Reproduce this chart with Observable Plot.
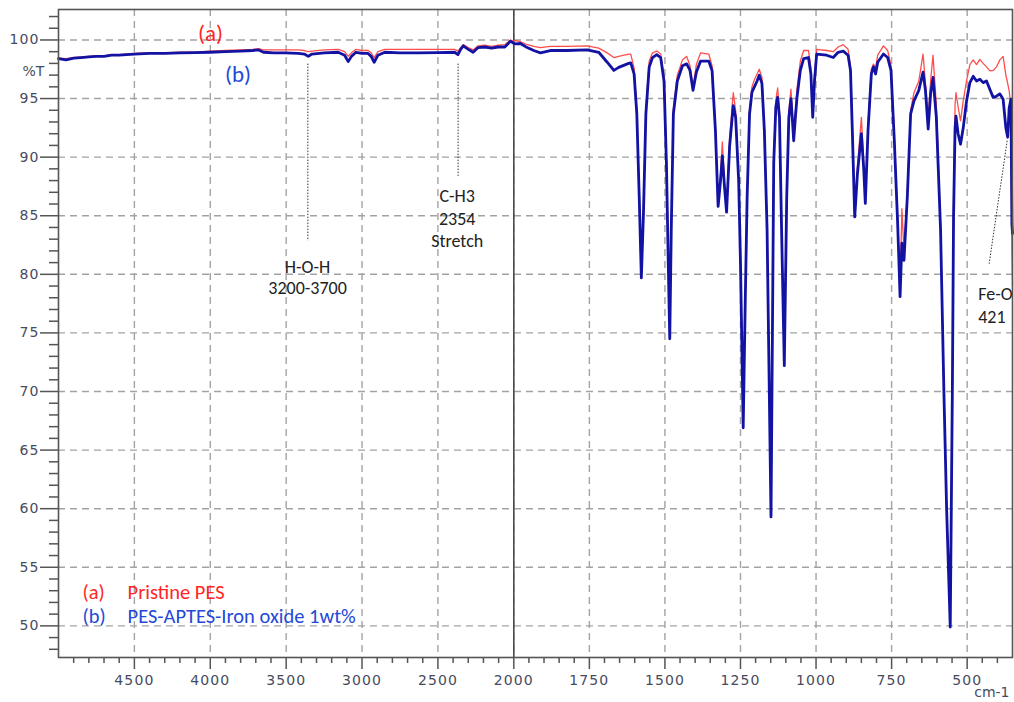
<!DOCTYPE html>
<html>
<head>
<meta charset="utf-8">
<script src="https://cdn.jsdelivr.net/npm/d3@7"></script>
<script src="https://cdn.jsdelivr.net/npm/@observablehq/plot@0.6"></script>
<style>
  html, body { margin: 0; padding: 0; background: #fff; }
</style>
</head>
<body>
<div id="chart"></div>
<script>
// ---- Data ----
const wavenumber = [
  5000, 4950, 4900, 4850, 4800, 4750, 4700, 4650, 4600, 4500, 4400, 4300, 4200, 4100, 4000,
  3900, 3800, 3720, 3682, 3649, 3580, 3507, 3420, 3380, 3354, 3330, 3250, 3157, 3115, 3091,
  3070, 3040, 3000, 2960, 2940, 2920, 2895, 2850, 2750, 2631, 2500, 2390, 2368, 2350, 2333,
  2300, 2268, 2235, 2191, 2147, 2103, 2059, 2040, 2022, 2005, 1994, 1978, 1961, 1934, 1912,
  1879, 1824, 1757, 1719, 1691, 1669, 1653, 1620, 1613, 1602, 1593, 1585, 1578, 1571, 1563,
  1552, 1541, 1527, 1514, 1503, 1495, 1489, 1484, 1479, 1472, 1459, 1442, 1428, 1417, 1407,
  1396, 1382, 1355, 1344, 1333, 1324, 1316, 1310, 1303, 1296, 1286, 1274, 1266, 1256, 1250,
  1241, 1234, 1228, 1220, 1212, 1204, 1195, 1188, 1179, 1171, 1162, 1149, 1140, 1133, 1127,
  1121, 1114, 1105, 1097, 1090, 1083, 1078, 1074, 1068, 1063, 1052, 1041, 1025, 1017, 1011,
  1005, 998, 965, 943, 927, 910, 894, 886, 880, 872, 863, 850, 842, 837, 828,
  817, 810, 803, 796, 777, 763, 752, 741, 730, 722, 716, 709, 698, 687, 676,
  660, 646, 638, 629, 621, 613, 602, 588, 577, 568, 556, 549, 545, 540, 537,
  530, 522, 513, 502, 491, 480, 469, 458, 447, 436, 425, 414, 403, 392, 381,
  372, 366, 361, 355, 352, 350
];
// (a) Pristine PES  (%T)
const pristinePES = [
  98.45, 98.4, 98.5, 98.55, 98.6, 98.65, 98.65, 98.75, 98.75, 98.85, 98.9, 98.9, 98.95, 98.97, 99.05,
  99.1, 99.15, 99.2, 99.25, 99.15, 99.15, 99.15, 99.15, 99.1, 99.0, 99.05, 99.15, 99.2, 99.0, 98.6,
  98.9, 99.2, 99.1, 99.1, 98.9, 98.5, 99.0, 99.2, 99.2, 99.2, 99.2, 99.2, 99.05, 99.35, 99.6,
  99.35, 99.15, 99.5, 99.55, 99.45, 99.55, 99.6, 99.8, 100.0, 99.9, 99.95, 99.85, 99.65, 99.45, 99.35,
  99.45, 99.45, 99.5, 99.3, 98.9, 98.5, 98.6, 98.8, 98.8, 97.6, 94.0, 86.8, 79.9, 85.4, 94.2,
  98.2, 98.9, 99.05, 98.8, 96.8, 89.7, 81.2, 74.6, 84.0, 94.1, 97.0, 98.3, 98.6, 97.8, 95.9,
  97.9, 98.9, 98.8, 97.8, 92.7, 86.0, 88.6, 91.3, 87.8, 85.4, 91.6, 95.5, 94.0, 88.2, 81.1,
  67.0, 78.2, 86.9, 94.1, 96.0, 96.6, 97.1, 97.5, 96.8, 92.6, 84.0, 59.4, 89.7, 94.9, 95.9,
  93.9, 84.0, 72.3, 86.9, 94.0, 95.8, 93.7, 91.7, 94.0, 95.8, 98.2, 99.1, 99.1, 97.6, 93.6,
  97.0, 99.2, 99.1, 99.0, 99.4, 99.6, 99.2, 97.8, 92.6, 85.0, 89.2, 93.4, 89.5, 86.2, 92.8,
  97.5, 97.95, 97.6, 98.7, 99.5, 99.1, 97.8, 91.8, 84.6, 78.3, 85.6, 82.0, 87.0, 94.0, 95.5,
  96.5, 98.8, 96.3, 93.3, 96.5, 98.7, 94.5, 84.2, 70.2, 60.2, 50.0, 70.0, 86.0, 94.5, 95.5,
  94.3, 93.1, 94.8, 96.5, 97.9, 98.3, 97.9, 98.35, 98.0, 97.7, 97.36, 97.4, 97.7, 98.3, 98.6,
  97.0, 96.3, 95.65, 94.2, 82.0, 79.0
];
// (b) PES-APTES-Iron oxide 1wt%  (%T)
const pesIronOxide = [
  98.4, 98.3, 98.45, 98.5, 98.55, 98.6, 98.6, 98.7, 98.7, 98.8, 98.85, 98.85, 98.9, 98.92, 98.95,
  99.0, 99.05, 99.1, 99.15, 98.95, 98.9, 98.9, 98.85, 98.8, 98.6, 98.8, 98.9, 98.95, 98.7, 98.15,
  98.6, 98.95, 98.85, 98.85, 98.6, 98.1, 98.7, 98.95, 98.9, 98.9, 98.92, 98.95, 98.75, 99.2, 99.5,
  99.2, 98.95, 99.35, 99.4, 99.3, 99.4, 99.4, 99.65, 99.9, 99.75, 99.66, 99.7, 99.43, 99.1, 98.9,
  99.1, 99.1, 99.15, 98.95, 98.1, 97.4, 97.66, 98.0, 98.05, 97.1, 93.7, 86.6, 79.7, 85.2, 93.7,
  97.7, 98.5, 98.75, 98.5, 96.5, 89.5, 81.0, 74.5, 83.8, 93.7, 96.5, 97.8, 97.96, 97.4, 95.7,
  97.25, 98.2, 98.2, 97.4, 92.3, 85.8, 88.0, 90.1, 87.5, 85.3, 90.9, 94.4, 93.4, 88.0, 81.0,
  66.9, 78.0, 86.6, 93.7, 95.55, 96.0, 96.5, 97.0, 96.3, 92.3, 83.8, 59.3, 89.5, 94.3, 95.1,
  93.4, 83.8, 72.2, 86.6, 93.4, 95.0, 93.1, 91.4, 93.5, 95.1, 97.4, 98.4, 98.5, 97.1, 93.4,
  96.5, 98.8, 98.7, 98.5, 98.95, 99.05, 98.7, 97.4, 92.3, 84.9, 88.6, 92.0, 88.9, 86.05, 92.3,
  97.1, 97.7, 97.1, 98.1, 98.8, 98.5, 97.4, 91.4, 84.35, 78.1, 82.65, 81.2, 86.6, 93.7, 94.8,
  95.7, 97.25, 95.7, 92.4, 95.4, 96.8, 93.4, 83.8, 70.0, 60.0, 49.9, 70.0, 85.0, 92.5, 93.5,
  92.0, 91.1, 92.5, 94.8, 96.36, 96.9, 96.5, 96.65, 96.36, 96.5, 95.8, 95.1, 95.2, 95.4, 94.95,
  92.5, 91.7, 94.2, 94.95, 84.3, 83.5
];

// Axis ticks
const xMajorTicks = [4500, 4000, 3500, 3000, 2500, 2000, 1750, 1500, 1250, 1000, 750, 500];
const xMinorTicks = [
  ...d3.range(4900, 2000, -100).filter(v => v % 500 !== 0),
  ...d3.range(1950, 350, -50).filter(v => v % 250 !== 0)
];
const yMajorTicks = [50, 55, 60, 65, 70, 75, 80, 85, 90, 95, 100];
const yMinorTicks = d3.range(48, 103, 1).filter(v => v % 5 !== 0);

// Annotations
const annText = ["H-O-H", "3200-3700", "C-H3", "2354", "Stretch", "Fe-O", "421"];
const annWn   = [3359, 3359, 2373, 2373, 2373, 463.6, 463.6];
const annT    = [80.64, 78.85, 86.7, 84.74, 82.86, 78.3, 76.3];
const annAnchor = ["middle", "middle", "middle", "middle", "middle", "start", "start"];
const leaderWn1 = [3357, 2367, 367.6];
const leaderT1  = [97.98, 97.98, 91.4];
const leaderWn2 = [3357, 2367, 427.3];
const leaderT2  = [82.86, 88.4, 80.9];

// Curve labels and legend
const curveLabels = ["(a)", "(b)"];
const curveLabelWn = [3998, 3817];
const curveLabelT = [100.54, 97.04];
const legendKeys = ["(a)", "(b)"];
const legendNames = ["Pristine PES", "PES-APTES-Iron oxide 1wt%"];
const legendKeyWn = 4842;
const legendNameWn = 4545;
const legendT = [52.85, 50.8];

const redLine = "#ff4d4d";
const blueLine = "#1212a3";
const redText = "#ff2626";
const blueText = "#2448d8";

const spectra = wavenumber.map((w, i) => ({w, a: pristinePES[i], b: pesIronOxide[i]}));
const ann = annText.map((t, i) => ({t, w: annWn[i], T: annT[i], anchor: annAnchor[i]}));
const leaders = leaderWn1.map((w, i) => ({x1: w, y1: leaderT1[i], x2: leaderWn2[i], y2: leaderT2[i]}));
const labels = curveLabels.map((t, i) => ({t, w: curveLabelWn[i], T: curveLabelT[i], c: i === 0 ? redText : blueText}));
const legend = legendKeys.map((k, i) => ({k, n: legendNames[i], T: legendT[i], c: i === 0 ? redText : blueText}));

const axisColor = "#474b5e";
const textFont = "Carlito, Lato, sans-serif";

const chart = Plot.plot({
  width: 1014,
  height: 702,
  marginLeft: 58,
  marginRight: 2,
  marginTop: 9,
  marginBottom: 45,
  style: {fontFamily: "DejaVu Sans, sans-serif", fontSize: "14px", background: "#fff"},
  x: {type: "linear", domain: [5000, 2000, 350], range: [58, 513.3, 1012], axis: null, label: null},
  y: {domain: [47.3, 102.6], axis: null, label: null},
  marks: [
    Plot.gridX(xMajorTicks, {stroke: "#a3a3a3", strokeOpacity: 1, strokeWidth: 1.4, strokeDasharray: "7,5"}),
    Plot.gridY(yMajorTicks, {stroke: "#a3a3a3", strokeOpacity: 1, strokeWidth: 1.4, strokeDasharray: "7,5"}),
    Plot.ruleX([2000], {stroke: "#4a4a4a", strokeWidth: 1.6}),
    Plot.line(spectra, {x: "w", y: "a", stroke: redLine, strokeWidth: 1.3}),
    Plot.line(spectra, {x: "w", y: "b", stroke: blueLine, strokeWidth: 2.8, strokeLinejoin: "round"}),
    Plot.link(leaders, {x1: "x1", y1: "y1", x2: "x2", y2: "y2", stroke: "#333", strokeWidth: 1, strokeDasharray: "1.5,1.5"}),
    Plot.text(ann.filter(d => d.anchor === "middle"), {x: "w", y: "T", text: "t", textAnchor: "middle", fill: "#222", fontSize: 18, fontFamily: textFont}),
    Plot.text(ann.filter(d => d.anchor === "start"), {x: "w", y: "T", text: "t", textAnchor: "start", fill: "#222", fontSize: 18, fontFamily: textFont, clip: true}),
    Plot.text(labels, {x: "w", y: "T", text: "t", fill: "c", fontSize: 23, fontFamily: textFont}),
    Plot.text(legend, {x: () => legendKeyWn, y: "T", text: "k", fill: "c", textAnchor: "start", fontSize: 20.5, fontFamily: textFont}),
    Plot.text(legend, {x: () => legendNameWn, y: "T", text: "n", fill: "c", textAnchor: "start", fontSize: 20.5, fontFamily: textFont}),
    Plot.frame({stroke: "#555", strokeWidth: 1.6}),
    Plot.axisX({ticks: xMinorTicks, tickSize: 6, tickFormat: () => "", stroke: "#555", strokeWidth: 1.5, label: null}),
    Plot.axisX({ticks: xMajorTicks, tickSize: 12, tickPadding: 6, tickFormat: d => String(d), stroke: "#555", strokeWidth: 1.5, fill: axisColor, fontSize: 14, label: null}),
    Plot.axisY({ticks: yMinorTicks, tickSize: 9, tickFormat: () => "", stroke: "#555", strokeWidth: 1.5, label: null}),
    Plot.axisY({ticks: yMajorTicks, tickSize: 18, tickPadding: 1, tickFormat: d => String(d), stroke: "#555", strokeWidth: 1.5, fill: axisColor, fontSize: 14, label: null}),
    Plot.text([{t: "%T", T: 97.3}], {y: "T", text: "t", frameAnchor: "left", dx: -36, fill: axisColor, fontSize: 14}),
    Plot.text([{t: "cm-1"}], {text: "t", frameAnchor: "bottom-right", dx: -3, dy: 39, textAnchor: "end", fill: axisColor, fontSize: 14})
  ]
});

document.getElementById("chart").appendChild(chart);
d3.select(chart).selectAll('g[aria-label$="tick label"] text').attr("letter-spacing", "1.1");
</script>
</body>
</html>
